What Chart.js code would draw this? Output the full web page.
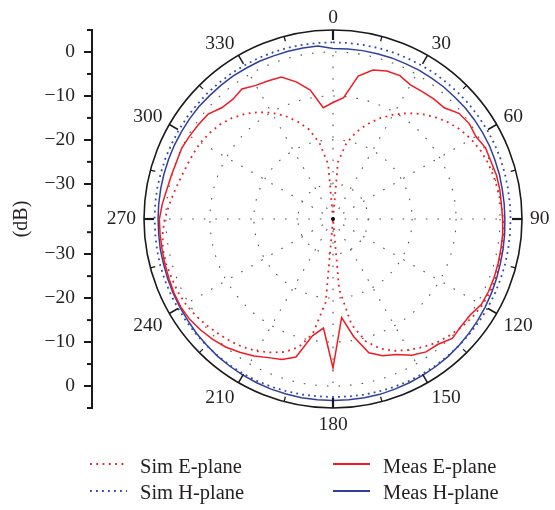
<!DOCTYPE html>
<html><head><meta charset="utf-8">
<script src="https://cdn.jsdelivr.net/npm/chart.js@4/dist/chart.umd.min.js"></script>
<style>
html,body{margin:0;padding:0;background:#fff;overflow:hidden;}
#wrap{position:relative;width:555px;height:510px;}
canvas{position:absolute;left:0;top:0;}
.lg{position:absolute;font-family:'Liberation Serif',serif;font-size:20.5px;color:#231f20;line-height:24px;white-space:nowrap;}
.sw{position:absolute;}
</style></head>
<body>
<div id="wrap">
<canvas id="axis" width="100" height="510"></canvas>
<canvas id="polar" width="555" height="510"></canvas>
<svg class="sw" style="left:90px;top:460px" width="38" height="8"><line x1="0" y1="4" x2="37" y2="4" stroke="#ED1C24" stroke-width="1.8" stroke-dasharray="1.8 4.5"/></svg>
<div class="lg" style="left:140px;top:454px">Sim E-plane</div>
<svg class="sw" style="left:90px;top:487px" width="38" height="8"><line x1="0" y1="4" x2="37" y2="4" stroke="#3347b0" stroke-width="1.8" stroke-dasharray="1.8 4.2"/></svg>
<div class="lg" style="left:140px;top:480px">Sim H-plane</div>
<svg class="sw" style="left:333px;top:460px" width="38" height="8"><line x1="0" y1="4" x2="37" y2="4" stroke="#ED1C24" stroke-width="2"/></svg>
<div class="lg" style="left:383px;top:454px">Meas E-plane</div>
<svg class="sw" style="left:333px;top:487px" width="38" height="8"><line x1="0" y1="4" x2="37" y2="4" stroke="#2f3f9e" stroke-width="2"/></svg>
<div class="lg" style="left:383px;top:480px">Meas H-plane</div>
</div>
<script>
// Angles (degrees) of the samples
const angleLabels = [0,5,10,15,20,25,30,35,40,45,50,55,60,65,70,75,80,85,90,95,100,105,110,115,120,125,130,135,140,145,150,155,160,165,170,175,
  180,185,190,195,200,205,210,215,220,225,230,235,240,245,250,255,260,265,270,275,280,285,290,295,300,305,310,315,320,325,330,335,340,345,350,355];
// Series values (dB)
const simE = [-38,-25,-20.5,-17.5,-15,-12.7,-10.6,-8.6,-6.8,-5.2,-3.8,-2.6,-1.7,-1.0,-0.5,-0.2,0.1,0.4,0.7,0.9,1.0,1.2,1.35,1.4,1.2,0.8,0.2,-0.5,-1.3,-2.4,-3.6,-4.9,-6.6,-9.2,-13.6,-22,
  -38,-19,-11.5,-7.8,-5.8,-4.5,-3.3,-2.4,-1.7,-1.1,-0.4,0.2,0.7,1.0,1.1,1.3,1.3,0.9,0.3,-0.6,-1.4,-2.1,-2.6,-2.9,-3.2,-3.8,-4.5,-5.5,-6.8,-8.3,-10.1,-12.1,-14.4,-16.9,-20.5,-25.5];
const simH = [2.2,2.2,2.2,2.25,2.3,2.3,2.35,2.4,2.4,2.45,2.5,2.5,2.5,2.5,2.5,2.45,2.4,2.4,2.4,2.4,2.45,2.5,2.5,2.55,2.6,2.6,2.6,2.65,2.65,2.7,2.7,2.7,2.65,2.6,2.6,2.55,
  2.5,2.5,2.55,2.6,2.65,2.7,2.7,2.7,2.7,2.7,2.7,2.7,2.7,2.7,2.7,2.7,2.65,2.6,2.6,2.6,2.6,2.55,2.55,2.5,2.5,2.5,2.45,2.45,2.4,2.4,2.35,2.35,2.3,2.3,2.25,2.2];
const measE = [-11.5,-10.3,-5.0,-2.9,-2.15,-2.0,-2.75,-2.6,-2.35,-2.2,-0.6,-0.15,-0.45,0.3,0.25,0.5,0.55,0.45,0.6,0.75,0.8,0.9,1.0,1.05,0.95,0.1,0.0,0.4,-0.8,-1.1,-2.2,-4.0,-4.9,-6.5,-10.8,-15.5,
  -4.1,-13.1,-11.0,-5.5,-4.0,-3.2,-2.0,-1.0,0.0,0.7,1.3,1.8,2.0,1.9,1.7,1.6,1.5,1.5,1.5,1.0,0.4,0.1,-0.1,0.0,-0.3,-0.6,-0.9,-2.2,-2.5,-1.9,-2.9,-3.3,-3.6,-5.7,-8.2,-12.6];
const measH = [0.8,0.8,0.9,0.9,1.0,1.0,1.1,1.1,1.2,1.2,1.3,1.3,1.3,1.3,1.2,1.2,1.1,1.1,1.1,1.2,1.3,1.4,1.6,1.8,2.0,2.2,2.4,2.6,2.8,2.9,3.0,3.1,3.2,3.3,3.3,3.3,
  3.3,3.3,3.3,3.2,3.2,3.1,3.0,2.9,2.8,2.6,2.5,2.3,2.2,2.1,2.0,1.9,1.9,1.8,1.8,1.8,1.8,1.8,1.8,1.8,1.8,1.8,1.8,1.7,1.7,1.7,1.6,1.6,1.5,1.5,1.5,1.5];
// Angular tick labels and ring values
const pointLabelAngles = [0,30,60,90,120,150,180,210,240,270,300,330];
const pointLabelText = ['0','30','60','90','120','150','180','210','240','270','300','330'];
const ringValues = [-38,-30,-20,-10,0,5];
const spokeEndValue = 0;
// Left (dB) axis: positions are dB distance from the centre (upper half +, lower half -)
const axisMajor = [38,28,18,8,-8,-18,-28,-38];
const axisMajorText = ['0','\u221210','\u221220','\u221230','\u221230','\u221220','\u221210','0'];
const axisMinor = [43,33,23,13,3,-3,-13,-23,-33,-43];

const SERIF = "'Liberation Serif', 'Times New Roman', serif";
const RED = '#ED1C24', BLUE = '#2f3f9e', BLUE_D = '#3347b0';

const polarDecor = {
  id: 'polarDecor',
  beforeDatasetsDraw(chart) {
    const s = chart.scales.r, ctx = chart.ctx;
    const rEnd = s.getDistanceFromCenterForValue(spokeEndValue);
    ctx.save();
    ctx.strokeStyle = '#555';
    ctx.lineWidth = 1.1;
    ctx.setLineDash([1.6, 10]);
    pointLabelAngles.forEach(a => {
      const p = s.getPointPosition(angleLabels.indexOf(a), rEnd);
      ctx.beginPath();
      ctx.moveTo(s.xCenter, s.yCenter);
      ctx.lineTo(p.x, p.y);
      ctx.stroke();
    });
    ctx.restore();
  },
  afterDatasetsDraw(chart) {
    const s = chart.scales.r, ctx = chart.ctx;
    const rOut = s.getDistanceFromCenterForValue(s.max);
    ctx.save();
    ctx.strokeStyle = '#1a1a1a';
    for (let a = 0; a < 360; a += 15) {
      const major = a % 30 === 0, card = a % 90 === 0;
      const len = major ? 10 : 5;
      const i = angleLabels.indexOf(a);
      const p1 = s.getPointPosition(i, rOut);
      const p2 = s.getPointPosition(i, rOut - len);
      ctx.lineWidth = card ? 2.2 : (major ? 1.5 : 1.3);
      ctx.beginPath(); ctx.moveTo(p1.x, p1.y); ctx.lineTo(p2.x, p2.y); ctx.stroke();
    }
    // centre dot
    ctx.fillStyle = '#111';
    ctx.beginPath(); ctx.arc(s.xCenter, s.yCenter, 2, 0, Math.PI * 2); ctx.fill();
    // angle labels
    ctx.font = '19.5px ' + SERIF;
    ctx.fillStyle = '#231f20';
    pointLabelAngles.forEach((a, k) => {
      const p = s.getPointPosition(angleLabels.indexOf(a), rOut + 8);
      let align = (a === 0 || a === 180) ? 'center' : (a < 180 ? 'left' : 'right');
      ctx.textAlign = align;
      let y;
      if (a === 90 || a === 270) { ctx.textBaseline = 'middle'; y = p.y; }
      else if (a < 90 || a > 270) { ctx.textBaseline = 'alphabetic'; y = p.y + 1; }
      else { ctx.textBaseline = 'alphabetic'; y = p.y + 13.5; }
      ctx.fillText(pointLabelText[k], p.x, y);
    });
    ctx.restore();
  }
};

new Chart(document.getElementById('polar'), {
  type: 'radar',
  data: {
    labels: angleLabels,
    datasets: [
      { label: 'Sim E-plane', data: simE, borderColor: RED, borderWidth: 1.8, borderDash: [1.8, 4.5], fill: false, pointRadius: 0 },
      { label: 'Sim H-plane', data: simH, borderColor: BLUE_D, borderWidth: 1.8, borderDash: [1.8, 4.2], fill: false, pointRadius: 0 },
      { label: 'Meas E-plane', data: measE, borderColor: RED, borderWidth: 1.5, fill: false, pointRadius: 0 },
      { label: 'Meas H-plane', data: measH, borderColor: BLUE, borderWidth: 1.5, fill: false, pointRadius: 0 }
    ]
  },
  options: {
    responsive: false, animation: false,
    layout: { padding: { left: 144, right: 32, top: 30, bottom: 101 } },
    elements: { line: { tension: 0 } },
    plugins: { legend: { display: false }, tooltip: { enabled: false } },
    scales: {
      r: {
        min: -38, max: 5,
        afterBuildTicks: ax => { ax.ticks = ringValues.map(v => ({ value: v })); },
        ticks: { display: false },
        pointLabels: { display: false },
        angleLines: { display: false },
        grid: {
          circular: true,
          color: c => c.tick && c.tick.value === 5 ? '#1a1a1a' : '#555',
          lineWidth: c => !c.tick || c.tick.value === -38 ? 0 : (c.tick.value === 5 ? 1.6 : 1.1)
        },
        border: { dash: c => c.tick && c.tick.value === 5 ? [] : [1.6, 10] }
      }
    }
  },
  plugins: [polarDecor]
});

const minorTicks = {
  id: 'minorTicks',
  afterDraw(chart) {
    const y = chart.scales.y, ctx = chart.ctx;
    ctx.save();
    ctx.strokeStyle = '#1a1a1a'; ctx.lineWidth = 2;
    axisMinor.forEach(v => {
      const py = y.getPixelForValue(v);
      ctx.beginPath(); ctx.moveTo(y.right - 5, py); ctx.lineTo(y.right, py); ctx.stroke();
    });
    ctx.restore();
  }
};

new Chart(document.getElementById('axis'), {
  type: 'line',
  data: { labels: [], datasets: [] },
  options: {
    responsive: false, animation: false,
    layout: { padding: { top: 30, bottom: 102, left: 0, right: 0 } },
    plugins: { legend: { display: false }, tooltip: { enabled: false } },
    scales: {
      x: { display: false },
      y: {
        type: 'linear', position: 'left', min: -43, max: 43,
        afterBuildTicks: ax => { ax.ticks = axisMajor.map(v => ({ value: v })); },
        afterFit: ax => { ax.width = 92; },
        ticks: {
          autoSkip: false, padding: 9, color: '#231f20',
          font: { family: SERIF, size: 19.5 },
          callback: (v) => { const k = axisMajor.indexOf(v); return k >= 0 ? axisMajorText[k] : ''; }
        },
        grid: { drawOnChartArea: false, color: '#1a1a1a', lineWidth: 2, tickLength: 8 },
        border: { display: true, color: '#1a1a1a', width: 2 },
        title: { display: true, text: '(dB)', color: '#231f20', font: { family: SERIF, size: 20 }, padding: { top: 10, bottom: 0 } }
      }
    }
  },
  plugins: [minorTicks]
});
</script>
</body></html>
